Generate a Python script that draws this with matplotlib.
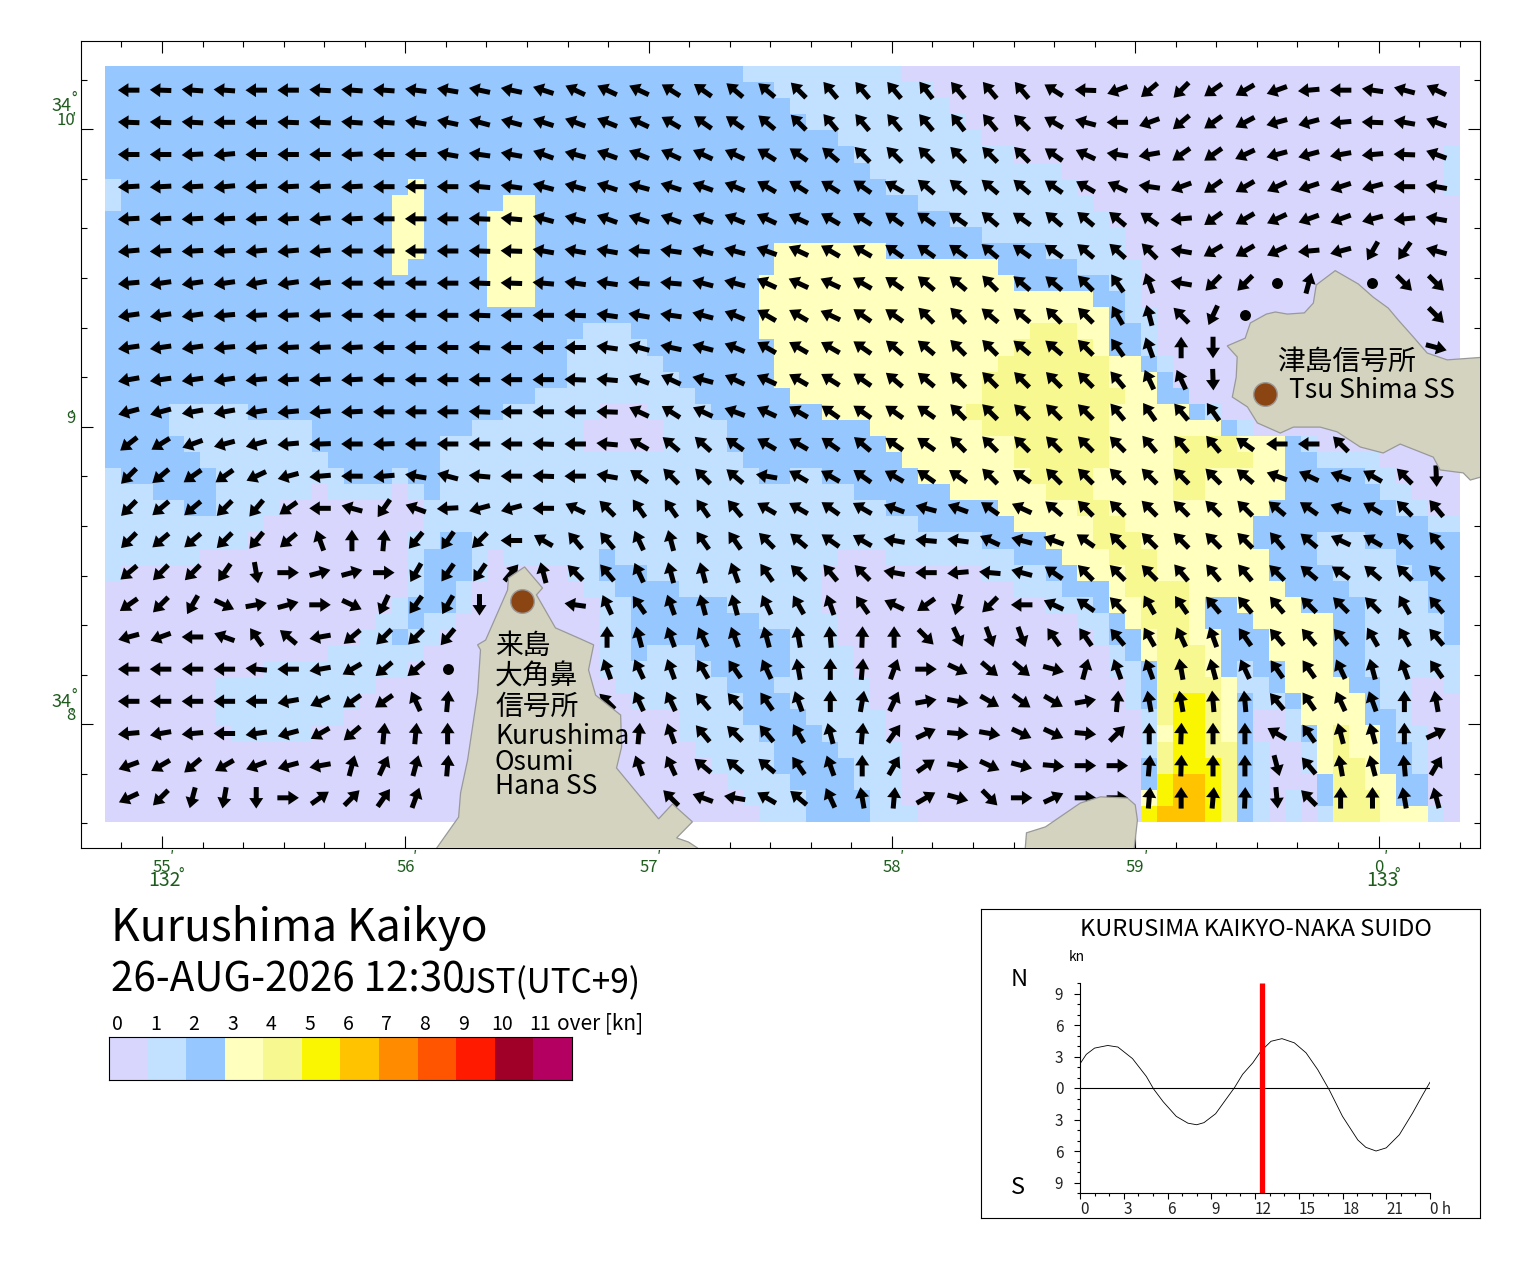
import numpy as np
import matplotlib
matplotlib.use("Agg")
import matplotlib.pyplot as plt
from matplotlib.colors import ListedColormap
from matplotlib.patches import Polygon
from matplotlib.ticker import MultipleLocator

plt.rcParams['font.family'] = ['Noto Sans CJK JP', 'DejaVu Sans']

W, H = 1520, 1269

# speed class per mesh cell, top row first: "class:end column"
CELL_ROWS = [
  "2:40 1:50 0:85",
  "2:42 1:52 0:85",
  "2:43 1:53 0:85",
  "2:44 1:54 0:85",
  "2:46 1:55 0:85",
  "2:47 1:57 0:84 1:85",
  "2:48 1:60 0:84 1:85",
  "1:1 2:19 3:20 2:49 1:61 0:84 1:85",
  "1:1 2:18 3:20 2:25 3:27 2:51 1:62 0:85",
  "2:18 3:20 2:24 3:27 2:53 1:63 0:85",
  "2:18 3:20 2:24 3:27 2:55 1:64 0:85",
  "2:18 3:20 2:24 3:27 2:42 3:49 2:59 1:64 0:85",
  "2:18 3:19 2:24 3:27 2:42 3:56 2:61 1:65 0:85",
  "2:24 3:27 2:41 3:57 2:63 1:65 0:85",
  "2:24 3:27 2:41 3:62 2:64 1:65 0:85",
  "2:41 3:63 2:64 1:66 0:85",
  "2:30 1:33 2:41 3:58 4:61 3:63 2:65 1:66 0:85",
  "2:29 1:34 2:42 3:57 4:62 3:63 2:65 1:66 0:85",
  "2:29 1:35 2:42 3:56 4:63 3:65 2:66 1:67 0:85",
  "2:29 1:36 2:42 3:55 4:63 3:66 2:67 0:85",
  "2:27 1:37 2:43 3:55 4:64 3:66 2:68 0:85",
  "2:4 1:9 2:25 1:31 0:34 1:38 2:45 3:54 4:63 3:68 2:69 1:70 0:85",
  "2:4 1:13 2:23 1:30 0:35 1:39 2:48 3:55 4:63 3:70 2:71 1:72 0:85",
  "2:5 1:13 2:21 1:30 0:35 1:39 2:49 3:57 4:63 3:67 4:71 3:74 2:75 1:76 0:85",
  "2:6 1:14 2:21 1:40 2:50 3:57 4:63 3:67 4:72 3:74 2:76 1:80 0:85",
  "1:1 2:7 1:15 2:18 1:19 2:21 1:41 2:43 1:45 2:51 3:58 4:62 3:67 4:69 3:74 2:79 1:81 0:85",
  "1:3 2:7 1:13 0:14 1:18 0:19 1:20 2:21 1:47 2:53 3:59 4:62 3:67 4:69 3:74 2:80 1:82 0:85",
  "1:5 2:7 1:11 0:20 1:49 2:56 3:61 4:63 3:73 2:81 1:83 0:85",
  "1:10 0:20 1:51 2:57 3:62 4:64 3:72 2:83 1:85",
  "1:9 0:19 1:21 2:23 1:55 2:59 3:62 4:65 3:72 2:76 1:79 2:85",
  "1:6 0:19 1:20 2:23 1:24 0:25 1:31 2:32 1:46 0:49 1:57 2:60 3:63 4:66 3:73 2:76 1:81 2:85",
  "1:1 0:19 1:20 2:23 1:24 0:29 1:31 2:34 1:45 0:55 1:59 2:61 3:64 4:66 3:73 2:77 1:82 2:85",
  "0:19 1:20 2:22 1:23 0:30 1:32 2:36 1:45 0:57 1:60 2:63 3:64 4:68 3:74 2:78 1:83 2:85",
  "0:18 1:19 2:22 1:23 0:31 1:33 2:39 1:45 0:59 1:62 2:63 3:65 4:68 3:69 2:71 3:75 2:79 1:83 2:85",
  "0:17 1:19 2:20 1:22 0:31 1:33 2:41 1:46 0:61 1:63 2:64 3:65 4:68 3:69 2:72 3:77 2:79 1:84 2:85",
  "0:16 1:18 2:19 1:21 0:31 1:33 2:43 1:46 0:62 1:63 2:65 3:66 4:68 3:70 2:73 3:77 2:79 1:84 2:85",
  "0:14 1:20 0:31 1:33 2:34 1:37 2:43 1:47 0:63 1:64 2:65 3:66 4:69 3:70 2:73 3:77 2:79 1:85",
  "0:10 1:19 0:31 1:38 2:43 1:47 0:63 1:65 2:66 4:69 3:70 2:71 1:72 2:74 3:77 2:79 1:85",
  "0:7 1:17 0:32 1:39 2:42 1:48 0:64 1:65 2:66 4:70 3:71 1:73 2:74 3:78 2:80 1:82 0:84 1:85",
  "0:7 1:16 0:33 1:40 2:43 1:48 0:64 1:65 2:66 4:67 5:69 4:70 3:71 2:72 1:74 2:75 3:79 2:80 1:82 0:85",
  "0:7 1:15 0:36 1:40 2:44 1:49 0:65 1:66 4:67 5:69 4:70 3:71 2:72 0:74 1:75 3:79 2:81 1:82 0:85",
  "0:8 1:13 0:36 1:41 2:45 1:49 0:65 1:66 3:67 5:69 4:70 3:71 2:72 0:74 1:75 2:76 3:77 4:78 3:80 2:81 1:83 0:85",
  "0:37 1:42 2:46 1:50 0:65 1:66 4:67 5:69 4:71 2:72 1:73 0:75 1:76 3:77 4:78 3:80 2:82 1:83 0:85",
  "0:38 1:42 2:47 1:50 0:65 2:66 4:67 5:70 4:71 2:72 1:73 0:75 1:76 3:77 4:79 3:80 2:82 1:83 0:85",
  "0:39 1:43 2:47 1:50 0:65 2:66 5:67 6:69 5:70 4:71 2:72 1:73 0:76 2:77 4:79 3:81 2:83 0:85",
  "0:40 1:44 2:48 1:50 0:65 3:66 5:67 6:69 5:70 4:71 2:72 1:73 0:74 1:75 0:76 2:77 4:80 3:81 2:83 0:85",
  "0:41 1:44 2:48 1:51 0:65 5:66 6:69 5:70 4:71 2:72 1:73 0:74 1:75 0:76 1:77 4:80 3:83 1:84 0:85",
]

# flow direction in degrees (0 east, 90 north), o = slack, x = land
ARROW_ROWS = [
  "180 178 176 176 180 180 177 176 176 173 170 168 168 162 155 155 155 148 145 140 140 135 130 130 130 128 130 130 130 148 178 200 220 225 215 210 200 185 180 172 165 155",
  "178 178 177 180 180 178 177 176 176 170 168 165 165 162 160 158 155 150 145 145 140 135 130 130 130 130 128 130 135 150 165 180 200 220 215 208 195 195 185 178 170 160",
  "180 180 183 185 180 180 180 183 180 180 170 172 170 160 165 160 158 155 155 155 148 145 140 135 135 135 135 135 135 145 155 172 190 215 215 205 195 195 190 185 178 160",
  "183 183 183 185 183 183 183 183 180 180 180 175 172 165 165 162 165 162 160 158 150 148 148 145 150 140 140 140 140 145 150 155 172 200 215 210 205 198 198 195 180 170",
  "183 183 183 183 183 183 185 183 180 180 180 178 175 165 165 160 162 160 160 158 155 155 150 148 145 145 145 140 145 140 140 140 145 185 215 210 205 200 200 195 185 170",
  "185 183 183 183 185 185 185 180 180 180 180 178 178 170 170 170 175 172 165 165 160 155 150 150 145 145 145 140 145 145 140 138 135 170 210 210 205 185 195 240 235 165",
  "185 188 188 188 190 188 185 180 180 180 180 178 178 175 172 172 175 175 165 165 155 155 155 150 145 140 140 135 140 140 135 125 110 170 225 225 o 75 x o 315 315",
  "188 188 188 185 183 183 183 180 180 180 180 178 180 180 178 172 170 172 165 158 150 150 155 145 145 135 135 140 140 135 135 120 105 135 245 o x x x x x 315",
  "188 188 188 185 185 183 183 183 180 180 180 178 180 180 180 172 165 168 165 158 150 150 150 145 140 140 135 135 140 140 135 125 110 90 270 x x x x x x 345",
  "190 188 188 188 185 183 183 183 180 180 180 180 180 180 178 175 160 155 165 155 155 150 148 145 140 140 135 135 135 135 135 130 115 115 272 x x x x x x x",
  "195 195 190 190 188 185 185 183 180 180 180 178 180 180 180 178 155 148 155 160 155 150 145 145 145 145 135 135 135 135 135 130 125 130 125 x x x x x x x",
  "218 212 200 195 195 185 182 180 182 180 180 180 180 178 180 175 150 140 138 145 150 150 145 140 145 145 135 135 135 135 135 135 130 130 130 145 180 180 135 x x x",
  "225 220 215 215 205 195 185 180 185 170 165 175 180 178 180 170 145 135 135 140 170 150 150 145 150 145 145 135 145 135 135 135 135 135 135 140 160 155 160 150 135 272",
  "225 220 220 225 230 215 180 165 235 160 183 195 195 180 155 135 125 125 125 130 150 150 145 150 160 165 160 145 155 140 135 135 135 135 135 135 140 145 160 150 135 130",
  "225 220 220 225 230 220 110 90 85 230 235 225 180 150 130 130 115 105 125 125 135 140 145 150 170 175 172 155 165 160 145 135 135 135 135 135 130 140 155 150 135 130",
  "220 225 225 235 280 0 15 15 0 240 235 235 50 105 135 130 115 105 105 110 125 135 130 135 170 180 185 175 165 145 135 135 135 130 130 130 135 140 145 140 135 135",
  "215 225 240 335 10 15 0 335 245 235 240 270 x x 172 115 125 110 105 105 115 120 110 125 155 215 255 225 180 155 145 135 120 125 130 130 130 135 135 135 120 130",
  "195 200 180 160 125 140 190 220 225 225 230 x x x x 90 105 110 115 110 105 100 95 88 90 315 295 290 290 125 125 130 120 115 110 125 130 130 130 120 120 130",
  "180 180 180 180 175 180 190 210 220 220 o x x x x 110 115 110 120 125 115 100 90 85 70 0 335 320 320 345 75 110 110 100 105 115 125 125 115 105 110 125",
  "180 180 180 180 180 190 205 215 215 115 85 x x x x 135 115 115 130 130 125 110 90 80 65 10 350 330 325 330 10 85 100 100 95 95 130 125 115 110 90 100",
  "185 190 185 180 188 195 210 220 85 85 90 x x x x x 85 110 130 135 130 120 105 85 55 25 355 350 335 335 355 45 90 88 90 90 150 125 105 105 90 25",
  "200 210 220 210 200 195 190 75 65 75 85 x x x x x 110 115 140 140 140 125 110 90 60 35 350 335 345 355 0 0 85 88 90 90 285 130 100 105 95 60",
  "205 225 255 260 270 0 35 45 55 70 x x x x x x x 135 160 170 150 140 115 100 85 30 345 315 0 25 0 0 85 90 85 88 275 135 90 90 100 105",
]

# coast outlines, minutes east of 132 deg / minutes north of 34 deg
TSU_LON = [59.822, 59.917, 59.978, 60.040, 60.081, 60.143, 60.200, 60.282, 60.450, 60.450, 60.377, 60.348, 60.253, 60.225, 60.089, 60.019, 59.925, 59.830, 59.760, 59.650, 59.596, 59.502, 59.461, 59.399, 59.415, 59.419, 59.378, 59.452, 59.473, 59.539, 59.576, 59.625, 59.695, 59.732, 59.744]
TSU_LAT = [9.525, 9.480, 9.436, 9.399, 9.359, 9.302, 9.248, 9.225, 9.235, 8.838, 8.821, 8.845, 8.855, 8.898, 8.942, 8.912, 8.932, 8.983, 8.999, 8.999, 8.979, 9.013, 9.067, 9.100, 9.167, 9.235, 9.272, 9.298, 9.349, 9.379, 9.386, 9.379, 9.383, 9.416, 9.477]
KURU_LON = [56.490, 56.564, 56.539, 56.617, 56.720, 56.774, 56.753, 56.782, 56.885, 56.889, 56.868, 57.041, 57.098, 57.180, 57.115, 57.164, 57.201, 57.22, 56.11, 56.129, 56.219, 56.227, 56.256, 56.297, 56.309, 56.297, 56.330, 56.420, 56.424]
KURU_LAT = [8.529, 8.458, 8.435, 8.324, 8.287, 8.267, 8.183, 8.098, 8.031, 7.924, 7.853, 7.682, 7.732, 7.672, 7.618, 7.604, 7.584, 7.56, 7.56, 7.584, 7.688, 7.769, 7.880, 8.105, 8.250, 8.267, 8.283, 8.451, 8.492]
ISLE_LON = [58.545, 58.548, 58.553, 58.631, 58.774, 58.857, 58.968, 59.000, 59.009, 58.996, 58.993]
ISLE_LAT = [7.56, 7.584, 7.635, 7.655, 7.735, 7.756, 7.752, 7.729, 7.678, 7.584, 7.56]
STATION_LON = [59.535, 56.478]
STATION_LAT = [9.110, 8.414]

CLASS_COLORS = ['#D9D6FD', '#C2E0FF', '#96C8FF', '#FFFFBE', '#F8F890', '#FAF500',
                '#FFC300', '#FF8C00', '#FF5500', '#FF1A00', '#A00028', '#B40060']
CLASS_LABELS = ['0', '1', '2', '3', '4', '5', '6', '7', '8', '9', '10', '11']

# tidal stream at the strait, hours / knots (north positive)
TIDE_HOUR = [0, 0.43, 1.0, 1.9, 2.6, 3.6, 4.55, 5.05, 5.7, 6.6, 7.4, 8.0, 8.5, 9.3, 10.0, 10.6, 11.15, 11.85, 12.4, 13.1, 13.85, 14.7, 15.5, 16.3, 17.1, 18.0, 19.05, 19.6, 20.3, 21.0, 21.9, 22.8, 23.5, 24]
TIDE_KN = [2.3, 3.2, 3.8, 4.05, 3.9, 2.8, 1.1, -0.1, -1.3, -2.7, -3.35, -3.5, -3.3, -2.45, -1.1, 0.05, 1.3, 2.4, 3.5, 4.45, 4.7, 4.3, 3.35, 1.75, -0.2, -2.7, -4.95, -5.65, -6.0, -5.7, -4.45, -2.4, -0.65, 0.55]
NOW_HOUR = 12.5

GREEN = '#1E5C1E'
LAND = '#D3D3BF'
COAST = '#999999'


def px_axes(x0, y0, x1, y1):
  return fig.add_axes([x0 / W, 1 - y1 / H, (x1 - x0) / W, (y1 - y0) / H])


def px_text(x, y, s, size, **kw):
  kw.setdefault('va', 'center')
  kw.setdefault('color', 'black')
  fig.text(x / W, 1 - y / H, s, fontsize=size, **kw)


fig = plt.figure(figsize=(W / 100, H / 100), dpi=100)

# map
ax = px_axes(81, 41, 1480, 848)
ax.set_xlim(54.667, 60.417)
ax.set_ylim(7.584, 10.297)

cells = []
for row in CELL_ROWS:
  line = []
  for part in row.split():
    cls, end = part.split(':')
    line += [int(cls)] * (int(end) - len(line))
  cells.append(line)
cells = np.array(cells)

lon_edges = np.linspace(54.7646, 60.3356, cells.shape[1] + 1)
lat_edges = np.linspace(10.2128, 7.6716, cells.shape[0] + 1)
cmap = ListedColormap(CLASS_COLORS)
ax.pcolormesh(lon_edges, lat_edges, cells, cmap=cmap, vmin=-0.5, vmax=11.5, antialiased=False, linewidth=0)

lon_mid = (lon_edges[:-1] + lon_edges[1:]) / 2
lat_mid = (lat_edges[:-1] + lat_edges[1:]) / 2
arrow_x, arrow_y, arrow_deg, dot_x, dot_y = [], [], [], [], []
for r, row in enumerate(ARROW_ROWS):
  for c, tok in enumerate(row.split()):
    lon, lat = lon_mid[2 * c + 1], lat_mid[2 * r + 1]
    if tok == 'o':
      dot_x.append(lon)
      dot_y.append(lat)
    elif tok != 'x':
      arrow_x.append(lon)
      arrow_y.append(lat)
      arrow_deg.append(float(tok))
arrow_deg = np.radians(arrow_deg)
ax.quiver(arrow_x, arrow_y, 21.5 * np.cos(arrow_deg), 21.5 * np.sin(arrow_deg), angles='uv', pivot='mid',
          units='dots', scale_units='dots', scale=1, width=5, headwidth=2.8, headlength=2.1,
          headaxislength=2.1, color='black', zorder=3)
ax.scatter(dot_x, dot_y, s=62, color='black', linewidths=0, zorder=3)

for lons, lats in [(TSU_LON, TSU_LAT), (KURU_LON, KURU_LAT), (ISLE_LON, ISLE_LAT)]:
  ax.add_patch(Polygon(np.column_stack([lons, lats]), closed=True, facecolor=LAND, edgecolor=COAST, linewidth=0.9, zorder=4))
ax.scatter(STATION_LON, STATION_LAT, s=290, color='#8B4513', edgecolors=COAST, linewidths=1, zorder=5)

ax.set_xticks([55, 56, 57, 58, 59, 60])
ax.set_xticklabels(['55', '56', '57', '58', '59', '0'], color=GREEN, fontsize=12)
ax.set_yticks([8, 9, 10])
ax.set_yticklabels(['8', '9', '10'], color=GREEN, fontsize=12, va='bottom')
ax.xaxis.set_minor_locator(MultipleLocator(1 / 6))
ax.yaxis.set_minor_locator(MultipleLocator(1 / 6))
ax.tick_params(which='major', direction='in', top=True, right=True, length=8.6, width=0.8, pad=8)
ax.tick_params(which='minor', direction='in', top=True, right=True, length=4.3, width=0.8)
ax.tick_params(axis='y', which='major', pad=4)
for sp in ax.spines.values():
  sp.set_linewidth(0.8)

# degree and minute marks
for x, y, s, size in [(172, 858, "′", 11), (415, 858, "′", 11), (659, 858, "′", 11), (902, 858, "′", 11),
                      (1146, 858, "′", 11), (1386, 858, "′", 11), (74, 120, "′", 11), (72, 418, "′", 11), (72, 716, "′", 11),
                      (181, 875, "°", 11), (1397, 875, "°", 11), (74, 99, "°", 11), (74, 696, "°", 11)]:
  px_text(x, y, s, size, color=GREEN, ha='center')
px_text(165, 881, '132', 14, color=GREEN, ha='center')
px_text(1382, 881, '133', 14, color=GREEN, ha='center')
px_text(62, 106, '34', 13, color=GREEN, ha='center')
px_text(62, 702, '34', 13, color=GREEN, ha='center')

# station names
px_text(1277, 362, '津島信号所', 20)
px_text(1289, 390, 'Tsu Shima SS', 19)
px_text(495, 646, '来島', 20)
px_text(495, 677, '大角鼻', 20)
px_text(495, 707, '信号所', 20)
px_text(495, 737, 'Kurushima', 19)
px_text(495, 762, 'Osumi', 19)
px_text(495, 787, 'Hana SS', 19)

# heading
px_text(111, 928, 'Kurushima Kaikyo', 32)
px_text(111, 980, '26-AUG-2026 12:30', 29)
px_text(459, 984, 'JST(UTC+9)', 24)

# colour key
key = px_axes(109, 1037, 572, 1080)
key.pcolormesh(np.arange(13), [0, 1], np.arange(12).reshape(1, 12), cmap=cmap, vmin=-0.5, vmax=11.5, antialiased=False)
key.set_xticks([])
key.set_yticks([])
for sp in key.spines.values():
  sp.set_linewidth(0.8)
for i, lab in enumerate(CLASS_LABELS):
  px_text(117 + 38.5 * i, 1024, lab, 14, ha='center')
px_text(557, 1023, 'over [kn]', 15)

# tide panel
frame = px_axes(981, 909, 1480, 1218)
frame.set_xticks([])
frame.set_yticks([])
for sp in frame.spines.values():
  sp.set_linewidth(0.8)
px_text(1080, 930, 'KURUSIMA KAIKYO-NAKA SUIDO', 17)
px_text(1069, 957, 'kn', 10)
px_text(1019, 979, 'N', 17, ha='center')
px_text(1018, 1188, 'S', 17, ha='center')

tide = px_axes(1080, 983, 1430, 1193)
tide.patch.set_alpha(0)
tide.plot(TIDE_HOUR, TIDE_KN, color='black', linewidth=0.6)
tide.axhline(0, color='black', linewidth=0.8)
tide.plot([NOW_HOUR, NOW_HOUR], [-10, 10], color='#FF0000', linewidth=3.8, solid_capstyle='butt')
tide.set_xlim(0, 24)
tide.set_ylim(-10, 10)
tide.spines['top'].set_visible(False)
tide.spines['right'].set_visible(False)
tide.set_xticks(np.arange(0, 25, 3))
tide.set_xticklabels(['0', '3', '6', '9', '12', '15', '18', '21', '0 h'], fontsize=11, ha='left', color='#222222')
tide.set_yticks(np.arange(-9, 10, 3))
tide.set_yticklabels(['9', '6', '3', '0', '3', '6', '9'], fontsize=11, color='#222222')
tide.xaxis.set_minor_locator(MultipleLocator(1))
tide.yaxis.set_minor_locator(MultipleLocator(1))
tide.tick_params(which='major', length=4, width=0.8, pad=2)
tide.tick_params(which='minor', length=2, width=0.8)
tide.tick_params(axis='y', which='major', pad=8)

fig.savefig('out.png', dpi=100)
